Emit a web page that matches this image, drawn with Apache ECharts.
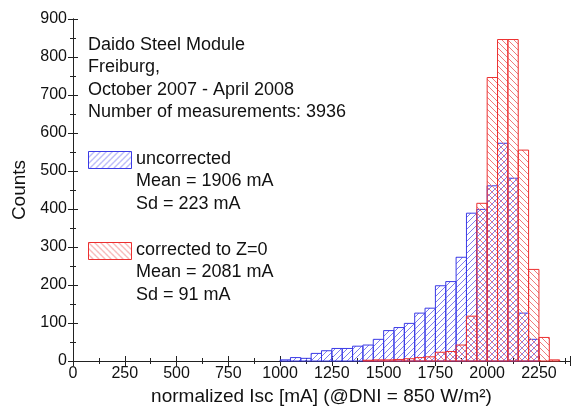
<!DOCTYPE html>
<html>
<head>
<meta charset="utf-8">
<title>Isc histogram</title>
<script src="https://cdn.jsdelivr.net/npm/echarts@6/dist/echarts.min.js"></script>
<style>
  html, body { margin: 0; padding: 0; background: #fff; }
  #main { width: 572px; height: 411px; }
</style>
</head>
<body>
<div id="main"></div>
<script>
// lower edge of each 50 mA bin
var binStart = [1000, 1050, 1100, 1150, 1200, 1250, 1300, 1350, 1400, 1450,
                1500, 1550, 1600, 1650, 1700, 1750, 1800, 1850, 1900, 1950,
                2000, 2050, 2100, 2150, 2200, 2250, 2300];
var binWidth = 50;
var uncorrected = [3, 9, 7, 20, 27, 33, 33, 39, 42, 57,
                   80, 88, 99, 126, 139, 198, 209, 273, 389, 399,
                   461, 573, 481, 126, 57, 0, 0];
var corrected = [0, 0, 0, 0, 0, 0, 0, 0, 2, 3,
                 3, 4, 6, 9, 11, 23, 25, 42, 118, 415,
                 746, 846, 846, 555, 241, 62, 3];

var infoLines = ['Daido Steel Module', 'Freiburg,', 'October 2007 - April 2008', 'Number of measurements: 3936'];
var blueText = ['uncorrected', 'Mean = 1906 mA', 'Sd = 223 mA'];
var redText = ['corrected to Z=0', 'Mean = 2081 mA', 'Sd = 91 mA'];

var FONT = '"Liberation Sans", Arial, sans-serif';
var BLUE = '#3a3ae6', RED = '#ec3030';

// little canvas tile with one diagonal hatch line
function hatch(color, slash) {
    var s = 6;
    var c = document.createElement('canvas');
    c.width = s; c.height = s;
    var g = c.getContext('2d');
    g.strokeStyle = color;
    g.lineWidth = 1;
    g.beginPath();
    if (slash) {
        g.moveTo(0, s); g.lineTo(s, 0);
        g.moveTo(-1, 1); g.lineTo(1, -1);
        g.moveTo(s - 1, s + 1); g.lineTo(s + 1, s - 1);
    } else {
        g.moveTo(0, 0); g.lineTo(s, s);
        g.moveTo(s - 1, -1); g.lineTo(s + 1, 1);
        g.moveTo(-1, s - 1); g.lineTo(1, s + 1);
    }
    g.stroke();
    return c;
}
var bluePat = { image: hatch('#7d7df0', true), repeat: 'repeat' };
var redPat = { image: hatch('#f07a7a', false), repeat: 'repeat' };

function histSeries(name, counts, stroke, pat) {
    return {
        name: name,
        type: 'custom',
        xAxisIndex: 0,
        yAxisIndex: 0,
        data: binStart.map(function (s, i) { return [s, s + binWidth, counts[i]]; }),
        renderItem: function (params, api) {
            var v = api.value(2);
            if (!v) return null;
            var p0 = api.coord([api.value(0), 0]);
            var p1 = api.coord([api.value(1), v]);
            return {
                type: 'rect',
                shape: { x: p0[0], y: p1[1], width: p1[0] - p0[0], height: p0[1] - p1[1] },
                style: { fill: pat, stroke: stroke, lineWidth: 1 }
            };
        }
    };
}

function textLines(lines, x, y0, step) {
    return lines.map(function (t, i) {
        return {
            type: 'text', left: x, top: y0 + i * step,
            style: { text: t, fill: '#111', font: '18px ' + FONT }
        };
    });
}

var axisCommon = {
    type: 'value',
    axisLine: { show: true, lineStyle: { color: '#222', width: 1 } },
    axisTick: { show: true, inside: true, length: 5, lineStyle: { color: '#222' } },
    minorTick: { show: true, splitNumber: 2, length: 3, lineStyle: { color: '#222' } },
    splitLine: { show: false },
    minorSplitLine: { show: false }
};

function plain(v) { return String(v); }

var myChart = echarts.init(document.getElementById('main'));
var option = {
    backgroundColor: '#fff',
    animation: false,
    grid: { left: 73, right: 2, top: 19, bottom: 50 },
    xAxis: [
        Object.assign({}, axisCommon, {
            min: 0, max: 2400, interval: 250,
            position: 'bottom',
            name: 'normalized Isc [mA] (@DNI = 850 W/m²)',
            nameLocation: 'middle', nameGap: 25,
            nameTextStyle: { fontSize: 19, fontFamily: FONT, color: '#111' },
            axisLabel: { fontSize: 16, fontFamily: FONT, color: '#111', margin: 5,
                         showMaxLabel: false, formatter: plain }
        }),
        Object.assign({}, axisCommon, {
            min: 0, max: 2400, interval: 250,
            position: 'top',
            axisLabel: { show: false }
        })
    ],
    yAxis: [
        Object.assign({}, axisCommon, {
            min: 0, max: 900, interval: 100,
            position: 'left',
            name: 'Counts',
            nameLocation: 'middle', nameGap: 43, nameRotate: 90,
            nameTextStyle: { fontSize: 19, fontFamily: FONT, color: '#111' },
            axisLabel: { fontSize: 16, fontFamily: FONT, color: '#111', margin: 6, formatter: plain }
        }),
        Object.assign({}, axisCommon, {
            min: 0, max: 900, interval: 100,
            position: 'right',
            axisLabel: { show: false }
        })
    ],
    series: [
        histSeries('uncorrected', uncorrected, BLUE, bluePat),
        histSeries('corrected to Z=0', corrected, RED, redPat)
    ],
    graphic: [].concat(
        textLines(infoLines, 88, 36, 22.5),
        [{ type: 'rect', left: 88, top: 151, shape: { width: 43, height: 17 },
           style: { fill: bluePat, stroke: BLUE, lineWidth: 1 } }],
        textLines(blueText, 136, 150, 22.5),
        [{ type: 'rect', left: 88, top: 242, shape: { width: 43, height: 17 },
           style: { fill: redPat, stroke: RED, lineWidth: 1 } }],
        textLines(redText, 136, 241, 22.5)
    )
};
myChart.setOption(option);
</script>
</body>
</html>
